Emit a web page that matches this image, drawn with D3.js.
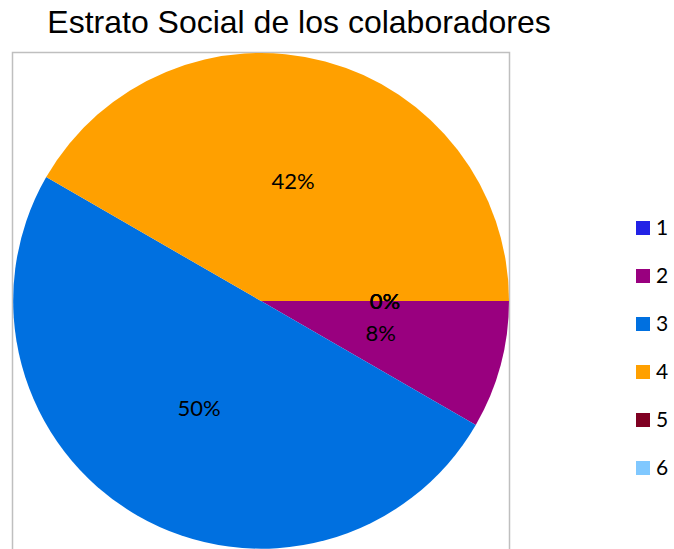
<!DOCTYPE html>
<html>
<head>
<meta charset="utf-8">
<script src="https://cdn.jsdelivr.net/npm/d3@7"></script>
<style>
  html, body { margin: 0; padding: 0; background: #fff; }
  svg { display: block; }
</style>
</head>
<body>
<svg id="chart" width="674" height="549"></svg>
<script>
// Social stratum of staff: number of people in each stratum (12 in total)
const categories = ["1", "2", "3", "4", "5", "6"];
const values = [0, 1, 6, 5, 0, 0];
const colors = ["#2222E6", "#99007F", "#0070E0", "#FFA000", "#7F0022", "#80C8FF"];
const title = "Estrato Social de los colaboradores";

const svg = d3.select("#chart");

// Title
svg.append("text")
  .attr("x", 299).attr("y", 33)
  .attr("text-anchor", "middle")
  .attr("font-family", "'Liberation Sans', Arial, sans-serif")
  .attr("font-size", 32)
  .attr("fill", "#000")
  .text(title);

// Plot-area frame
svg.append("rect")
  .attr("x", 12.5).attr("y", 52.5)
  .attr("width", 497).attr("height", 520)
  .attr("fill", "none")
  .attr("stroke", "#bfbfbf")
  .attr("stroke-width", 1.5);

const cx = 261, cy = 301, r = 248;
const g = svg.append("g").attr("transform", `translate(${cx},${cy})`);

const data = categories.map((c, i) => ({ cat: c, value: values[i], color: colors[i] }));
const pie = d3.pie().sort(null).value(d => d.value)
  .startAngle(Math.PI / 2).endAngle(Math.PI / 2 + 2 * Math.PI);
const arcs = pie(data);
const arc = d3.arc().innerRadius(0).outerRadius(r);
const labelArc = d3.arc().innerRadius(r * 0.5).outerRadius(r * 0.5);

g.selectAll("path.slice").data(arcs).enter().append("path")
  .attr("class", "slice")
  .attr("d", arc)
  .attr("fill", d => d.data.color);

// Percentage labels, rounded to whole percent
const total = d3.sum(values);
g.selectAll("text.pct").data(arcs).enter().append("text")
  .attr("class", "pct")
  .attr("transform", d => `translate(${labelArc.centroid(d)})`)
  .attr("text-anchor", "middle")
  .attr("dy", "0.35em")
  .attr("font-family", "Lato, Carlito, sans-serif")
  .attr("font-size", 22)
  .attr("fill", "#000")
  .text(d => Math.round(d.data.value / total * 100) + "%");

// Legend
const y0 = 228, step = 48;
const leg = svg.append("g");
data.forEach((d, i) => {
  leg.append("rect")
    .attr("x", 636).attr("y", y0 + i * step - 7)
    .attr("width", 14).attr("height", 14)
    .attr("fill", d.color);
  leg.append("text")
    .attr("x", 656).attr("y", y0 + i * step)
    .attr("dy", "0.35em")
    .attr("font-family", "Lato, Carlito, sans-serif")
    .attr("font-size", 21)
    .attr("fill", "#000")
    .text(d.cat);
});
</script>
</body>
</html>
